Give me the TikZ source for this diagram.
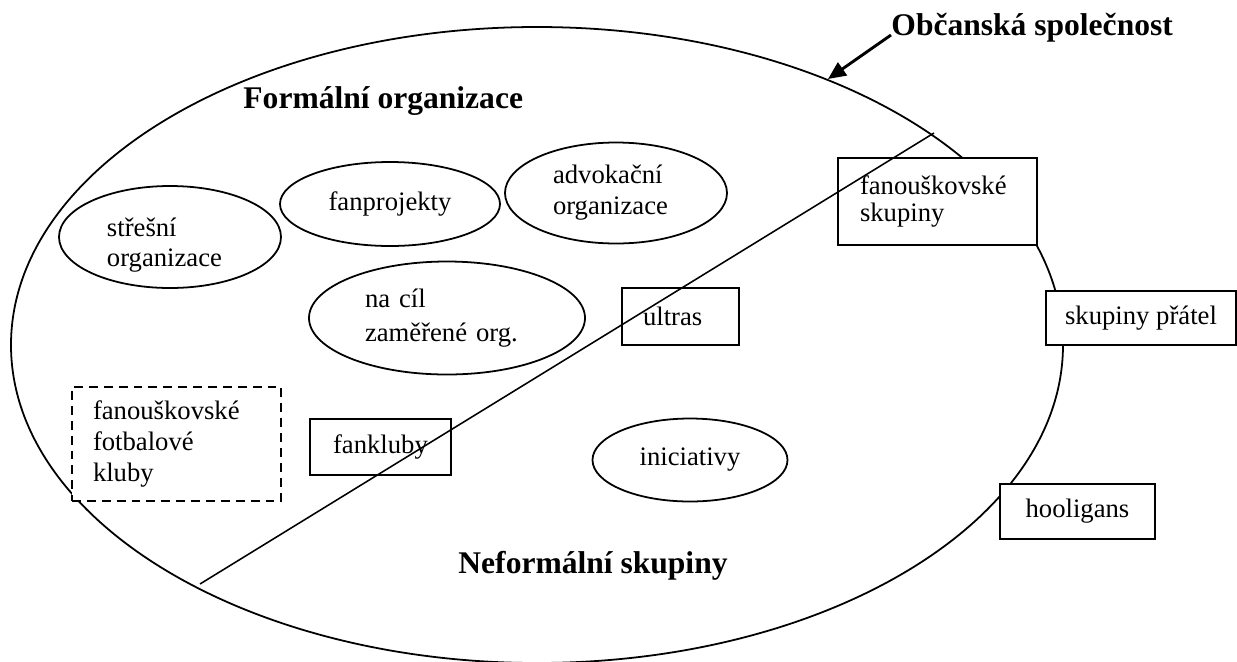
\documentclass[tikz,border=0pt]{standalone}
\usepackage{fontspec}
\setmainfont{Liberation Serif}
\usetikzlibrary{shapes.geometric,arrows.meta}

\begin{document}
\begin{tikzpicture}[x=0.45pt,y=-0.45pt]
\tikzset{oval/.style = {draw, ellipse, line width=.8pt, fill=white, inner sep=0pt, align=left, font=\fontsize{12}{13.5}\selectfont},
  box/.style = {draw, rectangle, line width=.8pt, fill=white, inner sep=0pt, align=left, font=\fontsize{12}{13.5}\selectfont},
  dims/.style 2 args = {minimum width=#1*\pxu, minimum height=#2*\pxu},
  lead/.style = {font=\fontsize{12}{#1}\selectfont},
  heading/.style = {inner sep=0pt, anchor=base west, font=\bfseries\fontsize{14.2}{17}\selectfont}}
\def\pxu{0.45pt}
\def\rimx{526}
\def\rimy{318}

\clip (0,0) rectangle (1237,661);
\draw[line width=.8pt] (537,345) ellipse [x radius=\rimx*\pxu, y radius=\rimy*\pxu];

\node[heading] (osp) at (891,35) {Občanská společnost};
\node[heading] (formal) at (243,108) {Formální organizace};
\node[heading] (neformal) at (458,573) {Neformální skupiny};

\node[oval, dims={222}{102}, text width=56.7pt, text height=16pt] (stresni) at (170,237) {střešní\\organizace};
\node[oval, dims={220}{84}] (fanproj) at (390,204) {fanprojekty};
\node[oval, lead=14pt, dims={222}{101}, text width=56.7pt] (advok) at (616,193) {advokační\\organizace};
\node[oval, lead=15.3pt, dims={276}{113}, text width=73.8pt] (nacil) at (447,318) {na cíl\\zaměřené org.};
\node[oval, dims={195}{83}] (inic) at (690,460) {iniciativy};

\node[box, dims={117}{57}, text width=33.75pt] (ultras) at (680.5,316.5) {ultras};
\node[box, lead=12.2pt, dims={199}{87}, text width=69.75pt] (fanskup) at (937.5,201.5) {fanouškovské\\skupiny};
\node[box, dims={190}{54}] (pratele) at (1141,318) {skupiny přátel};
\node[box, dims={155}{55}] (hool) at (1077.5,511.5) {hooligans};
\node[box, dims={141}{56}] (fankl) at (380.5,447) {fankluby};
\node[box, lead=14pt, dashed, dash pattern=on 4pt off 2.7pt, dims={209}{114}, text width=75.15pt] (fotkl) at (176.5,444) {fanouškovské\\fotbalové\\kluby};

\coordinate (cutL) at (200,584);
\coordinate (cutR) at (934,133);
\draw[line width=.7pt] (cutL) -- (cutR);

\coordinate (rim) at (828,79);
\draw[line width=1.3pt, -{Triangle[length=8pt,width=7pt]}] (osp.base west) -- (rim);
\end{tikzpicture}
\end{document}
